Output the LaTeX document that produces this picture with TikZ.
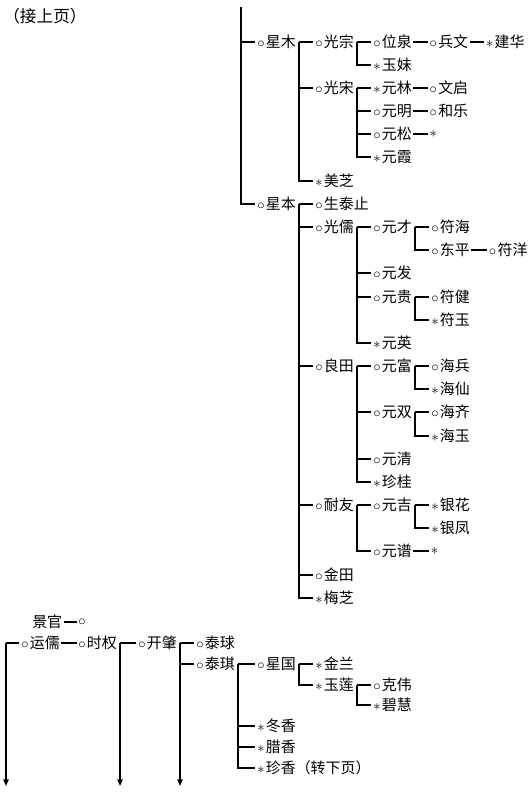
\documentclass[tikz,border=0pt]{standalone}
\usepackage{fontspec}
\usepackage{tikz}
\usetikzlibrary{calc,arrows.meta,positioning}
\newfontfamily\cjk{Noto Sans CJK SC}
\newcommand\cmk{$\circ$\kern1pt}
\newcommand\amk{$\ast$\kern1pt}
\tikzset{
  ln/.style={line width=1pt,black},
  tk/.style={ln,shorten >=1.5pt},
  dsh/.style={ln,shorten <=1pt,shorten >=1pt},
  ar/.style={ln,-{Triangle[length=5pt,width=4pt]}},
  pn/.style={anchor=west,inner sep=0pt,font=\cjk\fontsize{11.2}{13}\selectfont}
}
\newcommand\brk[2]{\foreach \ch in {#2} \draw[tk] ($(#1.east)+(3,0)$) |- (\ch.west);}

\begin{document}
\begin{tikzpicture}[x=0.75pt,y=-0.75pt]
\useasboundingbox (0,0) rectangle (530,792);
\node[pn,font=\cjk\fontsize{12.5}{15}\selectfont] (jsy) at (3,16) {（接上页）};
\coordinate (top) at (241,7);
\node[pn] (xm) at (257,42) {\cmk 星木}; \node[pn] (gz) at (315,42) {\cmk 光宗};
\node[pn] (wq) at (373,42) {\cmk 位泉};
\node[pn,right=13pt of wq] (bw) {\cmk 兵文}; \node[pn,right=13pt of bw] (jh) {\amk 建华};
\node[pn] (ym) at (373,65) {\amk 玉妹};
\node[pn] (gs) at (315,88) {\cmk 光宋}; \node[pn] (yl) at (373,88) {\amk 元林};
\node[pn,right=13pt of yl] (wqi) {\cmk 文启};
\node[pn] (ymi) at (373,111) {\cmk 元明}; \node[pn,right=13pt of ymi] (hl) {\cmk 和乐};
\node[pn] (ys) at (373,134) {\cmk 元松}; \node[pn,right=13pt of ys] (ysx) {$\ast$};
\node[pn] (yx) at (373,157) {\amk 元霞};
\node[pn] (mz) at (315,181) {\amk 美芝};
\node[pn] (xb) at (257,204) {\cmk 星本}; \node[pn] (stz) at (315,204) {\cmk 生泰止};
\node[pn] (gr) at (315,227) {\cmk 光儒}; \node[pn] (yc) at (373,227) {\cmk 元才};
\node[pn] (fh) at (431,227) {\cmk 符海};
\node[pn] (dp) at (431,250) {\cmk 东平}; \node[pn,right=14pt of dp] (fy) {\cmk 符洋};
\node[pn] (yf) at (373,273) {\cmk 元发};
\node[pn] (yg) at (373,297) {\cmk 元贵}; \node[pn] (fj) at (431,297) {\cmk 符健};
\node[pn] (fyu) at (431,320) {\amk 符玉};
\node[pn] (yy) at (373,343) {\amk 元英};
\node[pn] (lt) at (315,366) {\cmk 良田}; \node[pn] (yfu) at (373,366) {\cmk 元富};
\node[pn] (hb) at (431,366) {\cmk 海兵};
\node[pn] (hx) at (431,389) {\amk 海仙};
\node[pn] (ysh) at (373,412) {\cmk 元双}; \node[pn] (hq) at (431,412) {\cmk 海齐};
\node[pn] (hy) at (431,436) {\amk 海玉};
\node[pn] (yq) at (373,459) {\cmk 元清};
\node[pn] (zg) at (373,482) {\amk 珍桂};
\node[pn] (ny) at (315,505) {\cmk 耐友}; \node[pn] (yj) at (373,505) {\cmk 元吉};
\node[pn] (yh) at (431,505) {\amk 银花};
\node[pn] (yfe) at (431,528) {\amk 银凤};
\node[pn] (yp) at (373,551) {\cmk 元谱}; \node[pn,right=14pt of yp] (ypx) {$\ast$};
\node[pn] (jt) at (315,575) {\cmk 金田};
\node[pn] (mzh) at (315,598) {\amk 梅芝};

\node[pn] (jg) at (32,622) {景官}; \node[pn] (jgx) at (78,622) {$\circ$};
\coordinate (lft) at (6,643); \coordinate (bot) at (0,786);
\node[pn] (yr) at (21,643) {\cmk 运儒}; \node[pn] (sq) at (78,643) {\cmk 时权};
\node[pn] (kz) at (138,643) {\cmk 开肇}; \node[pn] (tq) at (196,643) {\cmk 泰球};
\node[pn] (tqi) at (196,664) {\cmk 泰琪}; \node[pn] (xg) at (257,664) {\cmk 星国};
\node[pn] (jl) at (315,664) {\amk 金兰};
\node[pn] (yli) at (315,685) {\amk 玉莲}; \node[pn] (kw) at (373,685) {\cmk 克伟};
\node[pn] (bh) at (373,705) {\amk 碧慧};
\node[pn] (dx) at (257,726) {\amk 冬香};
\node[pn] (lx) at (257,747) {\amk 腊香};
\node[pn] (zx) at (257,768) {\amk 珍香（转下页）};

\draw[tk] (top) |- (xm.west);
\draw[tk] (top) |- (xb.west);
\brk{xm}{gz,gs,mz}
\brk{gz}{wq,ym}
\brk{gs}{yl,ymi,ys,yx}
\brk{xb}{stz,gr,lt,ny,jt,mzh}
\brk{gr}{yc,yf,yg,yy}
\brk{yc}{fh,dp}
\brk{yg}{fj,fyu}
\brk{lt}{yfu,ysh,yq,zg}
\brk{yfu}{hb,hx}
\brk{ysh}{hq,hy}
\brk{ny}{yj,yp}
\brk{yj}{yh,yfe}
\brk{sq}{kz}
\brk{kz}{tq,tqi}
\brk{tqi}{xg,dx,lx,zx}
\brk{xg}{jl,yli}
\brk{yli}{kw,bh}
\foreach \pa/\pb in {wq/bw,bw/jh,yl/wqi,ymi/hl,ys/ysx,dp/fy,yp/ypx,jg/jgx,yr/sq}
  \draw[dsh] (\pa.east) -- (\pb.west);
\draw[tk] (lft) -- (yr.west);
\coordinate (sqv) at ($(sq.east)+(3,0)$);
\coordinate (kzv) at ($(kz.east)+(3,0)$);
\draw[ar] (lft) -- (lft |- bot);
\draw[ar] (sqv) -- (sqv |- bot);
\draw[ar] (kzv) -- (kzv |- bot);
\end{tikzpicture}
\end{document}
